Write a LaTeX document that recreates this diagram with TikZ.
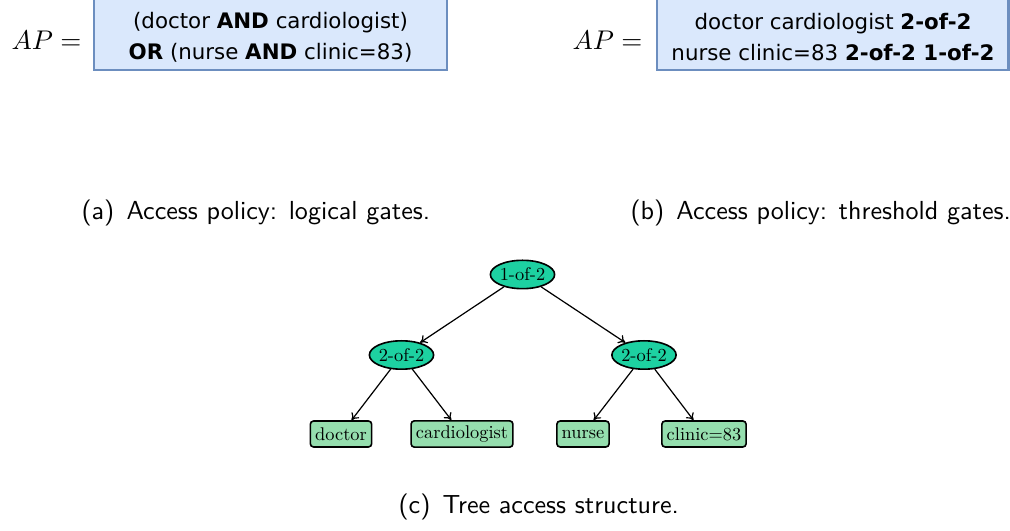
\documentclass[tikz,border=0pt]{standalone}
\usepackage{fontspec}
\usepackage{graphicx}
\newfontfamily\boxfont{DejaVu Sans}
\usetikzlibrary{shapes.geometric,arrows.meta}
\definecolor{polfill}{HTML}{DAE8FC}
\definecolor{poldraw}{HTML}{6C8EBF}
\definecolor{gatefill}{RGB}{29,209,161}
\definecolor{leaffill}{RGB}{149,222,174}
\newcommand{\tn}[1]{\scalebox{0.68}{#1}}
\tikzset{
  polbox/.style={draw=poldraw,fill=polfill,line width=0.75pt},
  poltext/.style={font=\boxfont\fontsize{7.9}{11.5}\selectfont,align=center,inner sep=0pt},
  apeq/.style={font=\fontsize{10}{12}\selectfont,inner sep=0pt},
  capt/.style={font=\sffamily\fontsize{9.65}{12}\selectfont,inner sep=0pt},
  gate/.style={ellipse,draw,line width=0.6pt,fill=gatefill,inner sep=0pt,minimum width=23.5pt,minimum height=10.5pt,font=\fontsize{10}{12}\selectfont},
  leaf/.style={rectangle,rounded corners=1.2pt,draw,line width=0.6pt,fill=leaffill,inner sep=1.8pt,minimum height=9.6pt,font=\fontsize{10}{12}\selectfont},
  edge/.style={line width=0.45pt,-{To[length=2.5pt,width=3.5pt]}}
}
\begin{document}
\begin{tikzpicture}[x=0.37pt,y=-0.37pt]
\useasboundingbox (0,0) rectangle (1010,531);
\clip (0,0) rectangle (1010,531);
% (a) logical gates
\path[polbox] (94,-10) rectangle (447,70);
\node[poltext] (pa) at (270.5,37.5) {(doctor \textbf{AND} cardiologist)\\\textbf{OR} (nurse \textbf{AND} clinic=83)};
\node[apeq,anchor=west] (apa) at (11,40) {$AP =$};
% (b) threshold gates
\path[polbox] (657,-10) rectangle (1008.5,70);
\node[poltext] (pb) at (833,37.5) {doctor cardiologist \textbf{2-of-2}\\nurse clinic=83 \textbf{2-of-2 1-of-2}};
\node[apeq,anchor=west] (apb) at (572,40) {$AP =$};
% captions
\node[capt,anchor=base west] (capa) at (81,220) {(a)\hskip4.5pt Access policy: logical gates.};
\node[capt,anchor=base west] (capb) at (630,220) {(b)\hskip4.5pt Access policy: threshold gates.};
\node[capt,anchor=base west] (capc) at (398,514) {(c)\hskip4.5pt Tree access structure.};
% tree
\node[gate] (root) at (522.5,274.5) {\tn{1-of-2}};
\node[gate] (g1) at (401.5,355) {\tn{2-of-2}};
\node[gate] (g2) at (644,355) {\tn{2-of-2}};
\node[leaf] (doc) at (341,434) {\tn{doctor}};
\node[leaf] (car) at (462,434) {\tn{cardiologist}};
\node[leaf] (nur) at (583,434) {\tn{nurse}};
\node[leaf] (cli) at (704,434) {\tn{clinic=83}};
\draw[edge] (root) -- (g1);
\draw[edge] (root) -- (g2);
\draw[edge] (g1) -- (doc);
\draw[edge] (g1) -- (car);
\draw[edge] (g2) -- (nur);
\draw[edge] (g2) -- (cli);
\end{tikzpicture}
\end{document}
